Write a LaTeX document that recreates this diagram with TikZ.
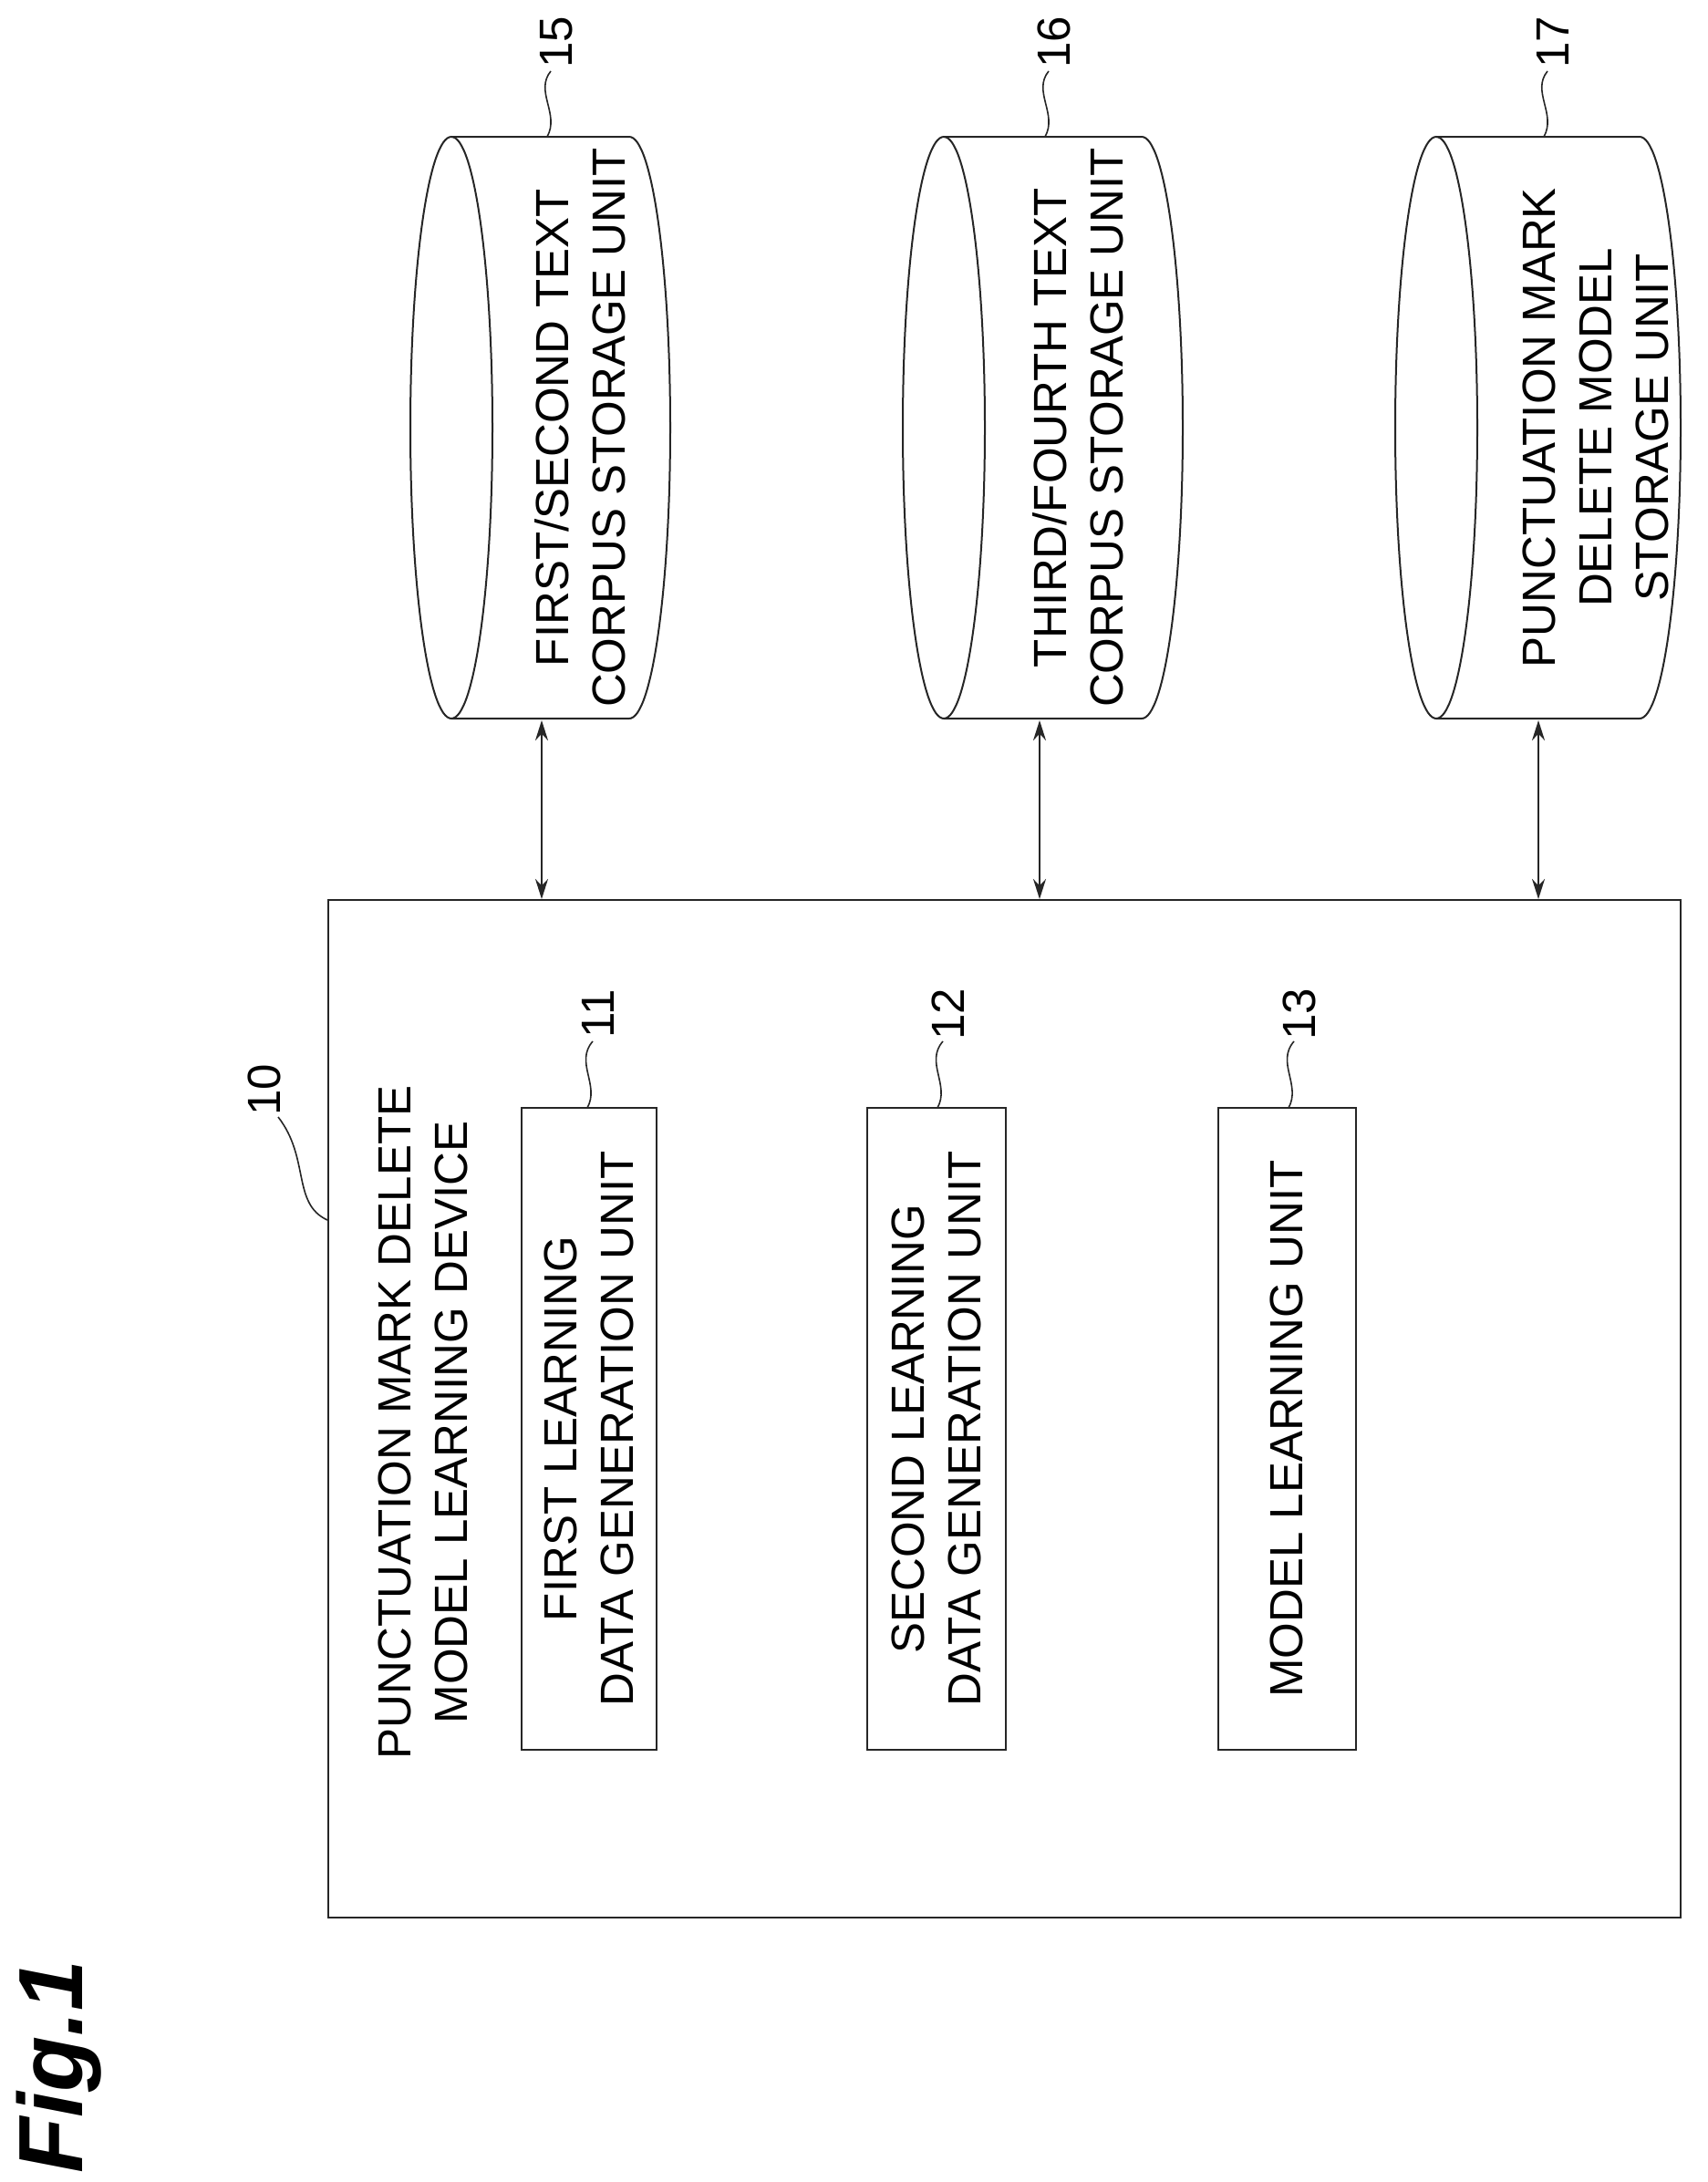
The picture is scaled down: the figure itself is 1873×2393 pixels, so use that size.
\documentclass[tikz,border=0pt]{standalone}
\usepackage{fontspec}
\setmainfont{Liberation Sans}
\usetikzlibrary{arrows.meta}
\begin{document}
\begin{tikzpicture}[x=0.5pt,y=-0.5pt,
  ln/.style={line width=1pt,draw=black!85},
  txt/.style={rotate=90,align=center,font=\fontsize{25.5}{31}\selectfont,inner sep=0pt},
  lbl/.style={rotate=90,font=\fontsize{25.5}{31}\selectfont,inner sep=1pt},
  arr/.style={ln,{Stealth[length=11pt,width=7pt]}-{Stealth[length=11pt,width=7pt]}},
  sq/.style={ln,line width=0.8pt}]
\useasboundingbox (0,0) rectangle (1873,2393);
% main box
\node[ln,draw,minimum width=1483*0.5pt,minimum height=1116*0.5pt,inner sep=0pt] (main) at (1101.5,1545) {};
\node[txt] (title) at (464,1560) {PUNCTUATION MARK DELETE\\MODEL LEARNING DEVICE};
\node[ln,draw,minimum width=148*0.5pt,minimum height=704*0.5pt,inner sep=0pt] (b11) at (646,1567) {};
\node[txt] at (b11) {FIRST LEARNING\\DATA GENERATION UNIT};
\node[ln,draw,minimum width=152*0.5pt,minimum height=704*0.5pt,inner sep=0pt] (b12) at (1027,1567) {};
\node[txt] at (b12) {SECOND LEARNING\\DATA GENERATION UNIT};
\node[ln,draw,minimum width=151*0.5pt,minimum height=704*0.5pt,inner sep=0pt] (b13) at (1411,1567) {};
\node[txt] at (b13) {MODEL LEARNING UNIT};
% cylinders
\foreach \n/\l/\r in {15/450/735,16/990/1297,17/1530/1843}{
  \pgfmathsetmacro{\a}{\l+45}\pgfmathsetmacro{\b}{\r-45}
  \draw[ln] (\a,469) ellipse[x radius=45,y radius=319];
  \draw[ln] (\a,150) -- (\b,150) arc[start angle=-90,end angle=90,x radius=45,y radius=319] -- (\a,788);
  \coordinate (c\n) at ({(\l+\r)/2},788);
}
\node[txt] (t15) at (636,469) {FIRST/SECOND TEXT\\CORPUS STORAGE UNIT};
\node[txt] (t16) at (1182,469) {THIRD/FOURTH TEXT\\CORPUS STORAGE UNIT};
\node[txt] (t17) at (1750,469) {PUNCTUATION MARK\\DELETE MODEL\\STORAGE UNIT};
\coordinate (a15) at (594,790); \coordinate (a16) at (1140,790); \coordinate (a17) at (1687,790);
\draw[arr] (a15) -- (a15 |- main.north);
\draw[arr] (a16) -- (a16 |- main.north);
\draw[arr] (a17) -- (a17 |- main.north);
% reference labels
\foreach \n/\x in {15/600,16/1146,17/1693}{
  \node[lbl] (l\n) at (\x+10,46) {\n};
  \draw[sq] (\x,150) .. controls (\x+14,125) and (\x-14,100) .. (\x+4,78);
}
\foreach \n/\x in {11/644,12/1028,13/1413}{
  \node[lbl] (l\n) at (\x+12,1112) {\n};
  \draw[sq] (\x,1215) .. controls (\x+14,1190) and (\x-14,1165) .. (\x+6,1142);
}
\node[lbl] (l10) at (290,1195) {10};
\draw[sq] (main.north west |- 0,1338) .. controls (320,1320) and (340,1270) .. (305,1225);
\node[rotate=90,font=\fontsize{50}{54}\selectfont\bfseries\itshape,inner sep=0pt] (fig) at (65,2267) {Fig.1};
\end{tikzpicture}
\end{document}
